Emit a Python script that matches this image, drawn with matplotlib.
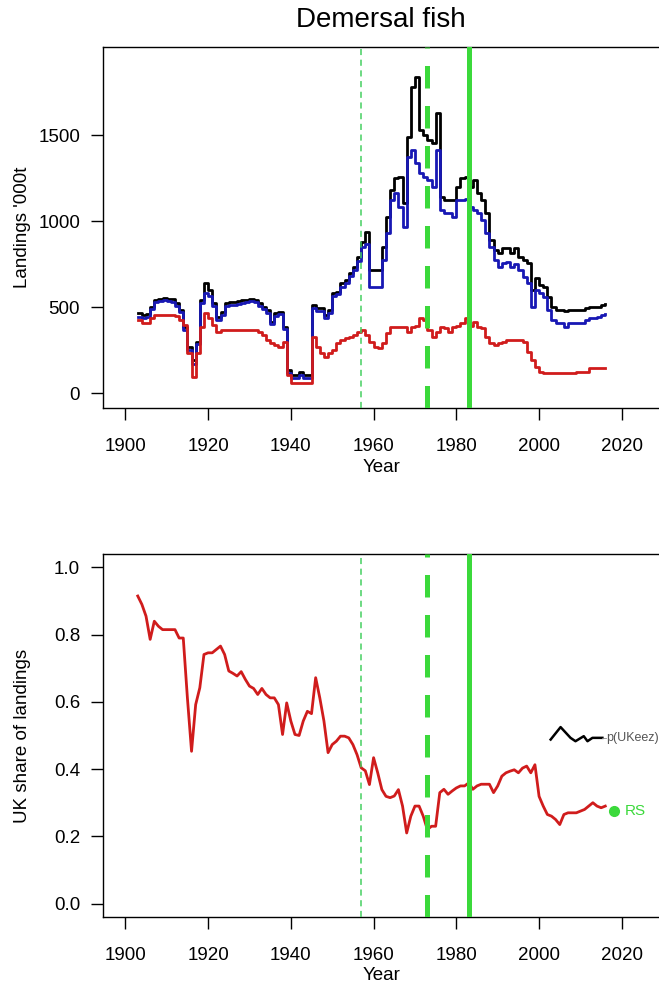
import numpy as np
import matplotlib
matplotlib.use('Agg')
import matplotlib.pyplot as plt

plt.rcParams['font.family'] = ['Liberation Sans', 'DejaVu Sans']

years = np.arange(1903, 2017)

# total landings ('000t)
total = [465, 455, 458, 503, 542, 548, 553, 550, 545, 523,
         484, 387, 271, 193, 300, 542, 640, 600, 523, 445,
         474, 523, 530, 530, 535, 540, 542, 550, 542, 523,
         503, 484, 416, 465, 474, 387, 135, 106, 106, 124,
         106, 106, 513, 494, 494, 455, 484, 581, 590, 639,
         658, 697, 735, 790, 880, 938, 716, 716, 716, 851,
         1026, 1181, 1248, 1258, 1103, 1490, 1780, 1838, 1529, 1500,
         1471, 1452, 1626, 1142, 1123, 1123, 1123, 1200, 1248, 1258,
         1200, 1239, 1161, 1123, 1045, 890, 833, 813, 842, 842,
         813, 842, 793, 774, 755, 600, 668, 629, 619, 561,
         503, 484, 484, 481, 484, 484, 484, 484, 493, 503,
         503, 503, 513, 520]

# landings in eez
eez = [445, 440, 445, 490, 528, 535, 540, 538, 532, 510,
       470, 370, 250, 172, 285, 525, 585, 565, 505, 428,
       455, 508, 515, 515, 520, 525, 528, 535, 528, 508,
       488, 468, 400, 450, 458, 372, 120, 89, 89, 105,
       89, 89, 498, 478, 478, 440, 468, 565, 575, 620,
       640, 680, 718, 770, 850, 870, 619, 619, 619, 774,
       930, 1123, 1161, 1084, 967, 1374, 1413, 1336, 1278, 1258,
       1239, 1200, 1413, 1065, 1045, 1045, 1026, 1123, 1123, 1130,
       1084, 1065, 1045, 1006, 930, 851, 774, 735, 755, 760,
       736, 750, 716, 677, 640, 503, 600, 581, 561, 484,
       426, 406, 406, 387, 406, 406, 406, 406, 426, 435,
       435, 445, 455, 460]

# UK landings
uk = [426, 406, 406, 435, 455, 455, 455, 455, 455, 450,
      426, 397, 232, 96, 232, 387, 465, 435, 397, 358,
      368, 368, 368, 368, 368, 368, 368, 368, 365, 358,
      339, 310, 290, 281, 271, 300, 106, 58, 58, 58,
      58, 58, 329, 271, 232, 212, 232, 251, 290, 310,
      319, 329, 339, 358, 368, 339, 300, 271, 261, 290,
      348, 387, 387, 387, 387, 358, 387, 393, 435, 426,
      368, 329, 358, 387, 377, 358, 387, 393, 406, 435,
      393, 416, 387, 377, 329, 290, 281, 290, 300, 310,
      310, 310, 310, 300, 242, 193, 155, 126, 116, 116,
      116, 116, 116, 116, 116, 116, 126, 126, 126, 145,
      145, 145, 145, 145]

# UK share of landings
share = [0.915, 0.89, 0.855, 0.786, 0.84, 0.825, 0.815, 0.815, 0.815, 0.815,
         0.79, 0.79, 0.612, 0.453, 0.592, 0.642, 0.741, 0.746, 0.746, 0.756,
         0.766, 0.741, 0.692, 0.685, 0.677, 0.69, 0.667, 0.647, 0.64, 0.622,
         0.64, 0.622, 0.612, 0.612, 0.592, 0.503, 0.597, 0.543, 0.503, 0.5,
         0.543, 0.572, 0.565, 0.672, 0.612, 0.543, 0.449, 0.473, 0.483, 0.498,
         0.498, 0.493, 0.473, 0.443, 0.404, 0.395, 0.354, 0.434, 0.389, 0.339,
         0.319, 0.315, 0.32, 0.339, 0.29, 0.21, 0.26, 0.29, 0.29, 0.26,
         0.22, 0.23, 0.23, 0.33, 0.34, 0.325, 0.335, 0.344, 0.35, 0.35,
         0.359, 0.34, 0.35, 0.355, 0.355, 0.355, 0.33, 0.35, 0.379, 0.389,
         0.394, 0.398, 0.389, 0.403, 0.409, 0.389, 0.413, 0.319, 0.29, 0.265,
         0.26, 0.25, 0.235, 0.265, 0.27, 0.27, 0.27, 0.275, 0.28, 0.29,
         0.30, 0.29, 0.285, 0.29]

# Treaty of Rome, UK joins EEC, CFP
events = [1957, 1973, 1983]
rs_year, rs_share = 2018, 0.275
key_x = [2002.8, 2005.2, 2007.6, 2008.8, 2010.8, 2011.7, 2012.9, 2015.3]
key_y = [0.488, 0.525, 0.493, 0.483, 0.498, 0.483, 0.493, 0.493]

green = '#3bd93b'
xlim = (1894.6, 2029.3)

fig = plt.figure(figsize=(6.59, 9.94), dpi=100)
W, H = 659.0, 994.0
ax1 = fig.add_axes([103 / W, 1 - 408 / H, 557.3 / W, 361 / H])
ax2 = fig.add_axes([103 / W, 1 - 917 / H, 557.3 / W, 363 / H])

ax1.step(years, total, where='post', color='black', lw=2.0)
ax1.step(years, eez, where='post', color='#1818b4', lw=2.0)
ax1.step(years, uk, where='post', color='#d01c1c', lw=2.0)
ax1.set_ylim(-85, 2011)
ax1.set_yticks([0, 500, 1000, 1500])
ax1.set_ylabel("Landings '000t")

ax2.plot(years, share, color='#d01c1c', lw=2.0)
ax2.plot([rs_year], [rs_share], 'o', color=green, ms=7, zorder=5)
ax2.text(rs_year + 2.8, rs_share, 'RS', color=green, fontsize=11, va='center')
ax2.plot(key_x, key_y, color='black', lw=1.8)
ax2.plot([key_x[-1], key_x[-1] + 0.9], [key_y[-1]] * 2, color='#888888', lw=0.6)
ax2.text(key_x[-1] + 0.9, key_y[-1], 'p(UKeez)', color='#555555', fontsize=9,
         va='center')
ax2.set_ylim(-0.04, 1.04)
ax2.set_yticks([0.0, 0.2, 0.4, 0.6, 0.8, 1.0])
ax2.set_yticklabels(['0.0', '0.2', '0.4', '0.6', '0.8', '1.0'])
ax2.set_ylabel('UK share of landings')

for ax in (ax1, ax2):
    ax.axvline(events[0], color='#45d060', lw=1.1, dashes=(4, 3), zorder=4)
    ax.axvline(events[1], color=green, lw=3.6, dashes=(4.5, 3.5), zorder=4)
    ax.axvline(events[2], color=green, lw=3.6, zorder=4)
    ax.set_xlim(*xlim)
    ax.set_xticks([1900, 1920, 1940, 1960, 1980, 2000, 2020])
    ax.tick_params(direction='out', length=8.5, width=1.0, labelsize=13.5)
    ax.tick_params(axis='x', pad=13)
    ax.tick_params(axis='y', pad=8)
    for s in ax.spines.values():
        s.set_linewidth(1.0)
    ax.set_xlabel('Year', fontsize=13.5)
    ax.xaxis.label.set_va('center')
    ax.yaxis.label.set_size(13.5)
    ax.yaxis.label.set_va('center')

ax1.xaxis.set_label_coords(0.5, (408 - 467) / 361.0)
ax2.xaxis.set_label_coords(0.5, (363 - (975 - 554)) / 363.0)
ax1.yaxis.set_label_coords((22 - 103) / 557.3, 0.5)
ax2.yaxis.set_label_coords((22 - 103) / 557.3, 0.5)

fig.text(381 / W, 1 - 20 / H, 'Demersal fish', fontsize=20, ha='center', va='center')

fig.savefig('out.png', dpi=100)
